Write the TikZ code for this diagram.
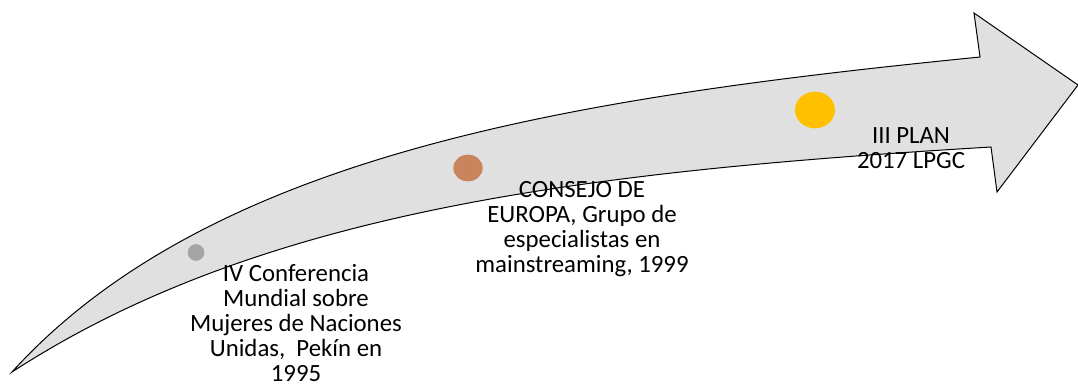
\documentclass[tikz,border=0pt]{standalone}
\usepackage{fontspec}
\setmainfont{Carlito}
\usetikzlibrary{shapes.geometric}
\definecolor{flecha}{HTML}{E0E0E0}
\definecolor{hitogris}{HTML}{A5A5A5}
\definecolor{hitonaranja}{HTML}{C8855D}
\definecolor{hitoamarillo}{HTML}{FFC000}
\begin{document}
\begin{tikzpicture}[
        x=0.75pt, y=-0.75pt,
        every node/.style={font=\fontsize{18.6}{18.75}\selectfont},
        texto/.style={align=center, inner sep=0pt},
        hito/.style={ellipse, draw=none, inner sep=0pt}
    ]
    \useasboundingbox (0,0) rectangle (1078,383);
    % flecha curva
    \filldraw[fill=flecha, draw=black, line width=0.75pt, line join=miter]
        (12,372) .. controls (212,152) and (580,97) .. (980,57)
        -- (974,13) -- (1078,85) -- (997,192) -- (991,147)
        .. controls (591,171) and (262,209.5) .. (12,372) -- cycle;
    % hitos
    \node[hito, fill=hitogris, minimum width=12.5pt, minimum height=12.5pt] (p1) at (196,252.5) {};
    \node[hito, fill=hitonaranja, minimum width=22pt, minimum height=20pt] (p2) at (468,168) {};
    \node[hito, fill=hitoamarillo, minimum width=30pt, minimum height=27.5pt] (p3) at (815,110) {};
    % textos
    \node[texto] (conf) at (296,323.5) {IV Conferencia\\Mundial sobre\\Mujeres de Naciones\\Unidas,\ \ Pekín en\\1995};
    \node[texto] (consejo) at (582,229.5) {CONSEJO DE\\EUROPA, Grupo de\\especialistas en\\mainstreaming, 1999};
    \node[texto] (plan) at (911,148) {III PLAN\\2017 LPGC};
\end{tikzpicture}
\end{document}
